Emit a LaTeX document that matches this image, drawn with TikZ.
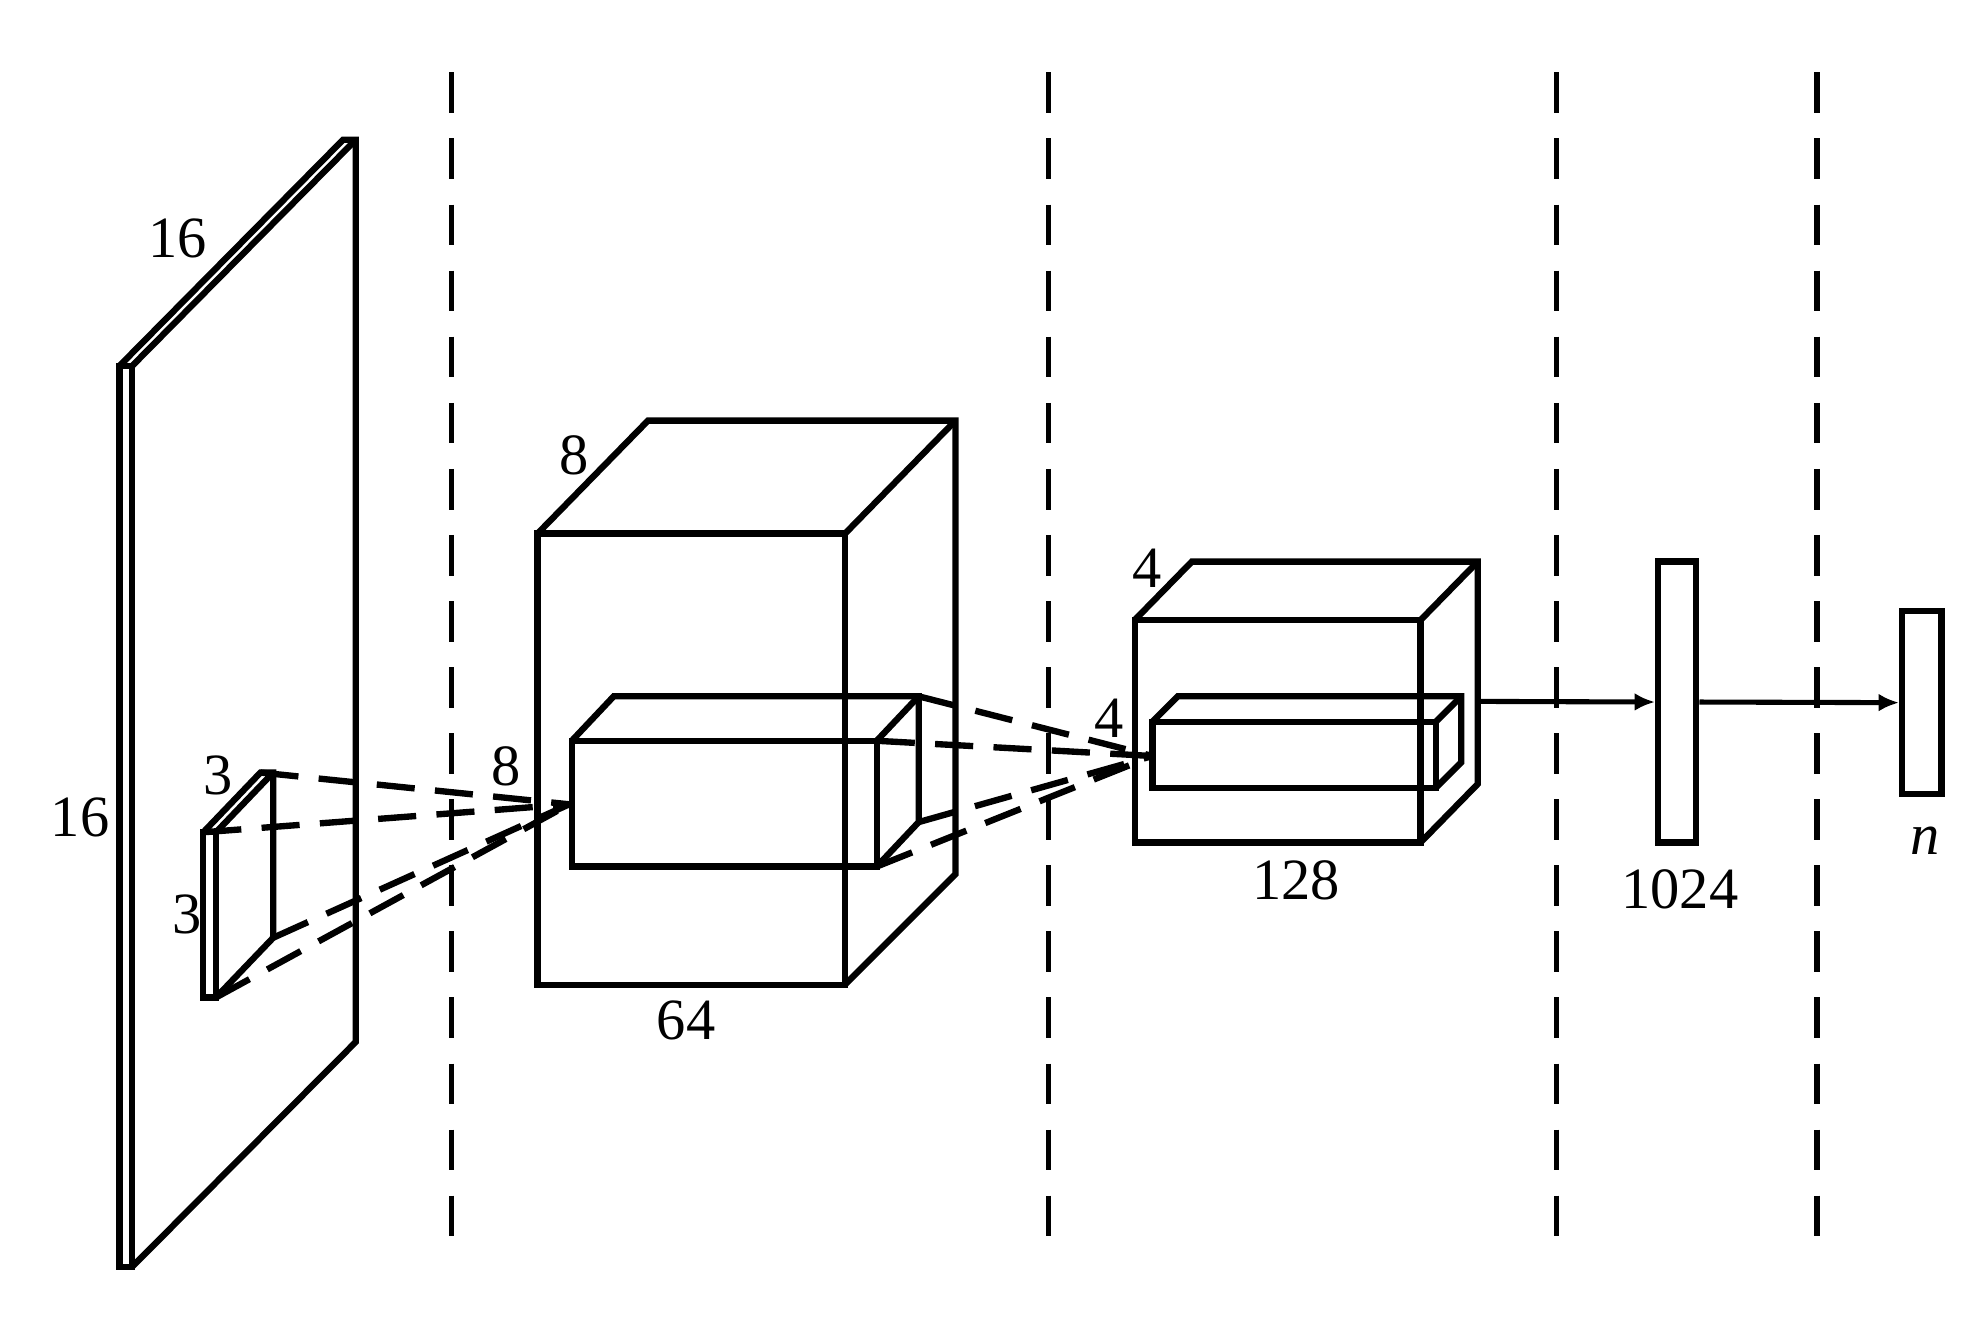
\documentclass[tikz,border=0pt]{standalone}
\usepackage{fontspec}
\setmainfont{Liberation Serif}
\usetikzlibrary{arrows.meta}
\begin{document}
\begin{tikzpicture}[x=1pt,y=-1pt,line width=5pt,line join=miter,
  lbl/.style={font=\fontsize{46}{48}\selectfont,inner sep=0pt},
  dsh/.style={dash pattern=on 30pt off 16pt},
  vsep/.style={dash pattern=on 32pt off 20pt,line width=4pt},
  arr/.style={-{Latex[length=16pt,width=14pt]}}]
\useasboundingbox (0,0) rectangle (1563,1040);
\fill[white] (0,0) rectangle (1563,1040);
% separators
\foreach \x in {355,825,1225,1430} \draw[vsep] (\x,57) -- (\x,985);
% input plate
\draw (94,288) rectangle (104,997);
\draw (94,288) -- (270,110) -- (280,110) -- (280,820) -- (104,997);
\draw (104,288) -- (280,110);
% small 3x3 kernel
\draw (160,655) rectangle (170,785);
\draw (160,655) -- (205,608) -- (215,608) -- (215,738) -- (170,785);
\draw (170,655) -- (215,608);
\coordinate (k1) at (205,608); \coordinate (k2) at (160,655);
\coordinate (k3) at (170,785); \coordinate (k4) at (215,738);
% box 1
\draw (423,420) rectangle (665,775);
\draw (423,420) -- (510,331) -- (752,331) -- (752,688) -- (665,775);
\draw (665,420) -- (752,331);
% inner 1
\draw (450,583) rectangle (690,682);
\draw (450,583) -- (483,548) -- (723,548) -- (723,647) -- (690,682);
\draw (690,583) -- (723,548);
\coordinate (c1) at (448,633);
\coordinate (i1) at (723,548); \coordinate (i2) at (690,583);
\coordinate (i3) at (723,647); \coordinate (i4) at (690,682);
% box 2
\draw (893,488) rectangle (1118,663);
\draw (893,488) -- (938,442) -- (1163,442) -- (1163,617) -- (1118,663);
\draw (1118,488) -- (1163,442);
% inner 2
\draw (907,568) rectangle (1130,620);
\draw (907,568) -- (927,548) -- (1150,548) -- (1150,600) -- (1130,620);
\draw (1130,568) -- (1150,548);
\coordinate (c2) at (907,595);
% dashed connectors
\foreach \p in {k1,k2,k3,k4} \draw[dsh] (\p) -- (c1);
\foreach \p in {i1,i2,i3,i4} \draw[dsh] (\p) -- (c2);
% dense layers
\node[draw,minimum width=30pt,minimum height=221pt,inner sep=0pt] (fc) at (1320,552.5) {};
\node[draw,minimum width=31pt,minimum height=144pt,inner sep=0pt] (out) at (1512.5,553) {};
\coordinate (b2) at (1163,552);
\draw[arr,line width=4pt] (b2) -- (fc.west);
\draw[arr,line width=4pt] (fc.east) -- (out.west);
% labels
\node[lbl] at (140,188) {16};
\node[lbl] at (63,643) {16};
\node[lbl] at (172,610) {3};
\node[lbl] at (147,720) {3};
\node[lbl] at (452,358) {8};
\node[lbl] at (398,603) {8};
\node[lbl] at (540,803) {64};
\node[lbl] at (903,447) {4};
\node[lbl] at (873,565) {4};
\node[lbl] at (1020,693) {128};
\node[lbl] at (1322,700) {1024};
\node[lbl] at (1515,662) {\textit{n}};
\end{tikzpicture}
\end{document}
